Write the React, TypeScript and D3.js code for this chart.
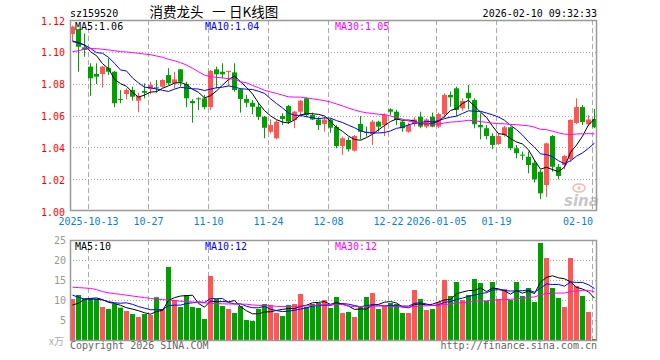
import React from "react";
import * as d3 from "d3";

const symbol = "sz159520";
const titleParts = ["消费龙头", "一", "日K线图"];
const timestamp = "2026-02-10 09:32:33";

const openP = [1.1112,1.1142,1.1028,1.0907,1.0861,1.0861,1.0900,1.0875,1.0704,1.0735,
1.0760,1.0693,1.0754,1.0766,1.0777,1.0781,1.0854,1.0802,1.0890,1.0798,
1.0691,1.0708,1.0708,1.0652,1.0890,1.0875,1.0875,1.0871,1.0765,1.0704,
1.0680,1.0655,1.0592,1.0498,1.0457,1.0597,1.0660,1.0572,1.0624,1.0708,
1.0603,1.0575,1.0547,1.0575,1.0528,1.0408,1.0446,1.0379,1.0547,1.0498,
1.0484,1.0561,1.0540,1.0639,1.0624,1.0561,1.0498,1.0547,1.0592,1.0530,
1.0592,1.0530,1.0609,1.0729,1.0771,1.0645,1.0743,1.0697,1.0540,1.0520,
1.0471,1.0421,1.0477,1.0526,1.0394,1.0354,1.0341,1.0303,1.0247,1.0163,
1.0471,1.0278,1.0289,1.0325,1.0553,1.0653,1.0545,1.0578];

const highP = [1.1165,1.1142,1.1116,1.0928,1.0928,1.0911,1.0959,1.0880,1.0760,1.0771,
1.0781,1.0743,1.0802,1.0812,1.0823,1.0827,1.0897,1.0875,1.0890,1.0812,
1.0702,1.0714,1.0729,1.0886,1.0907,1.0928,1.0880,1.0928,1.0771,1.0729,
1.0697,1.0677,1.0597,1.0576,1.0572,1.0614,1.0666,1.0630,1.0697,1.0714,
1.0618,1.0592,1.0592,1.0582,1.0540,1.0467,1.0463,1.0477,1.0597,1.0530,
1.0572,1.0567,1.0614,1.0645,1.0635,1.0567,1.0555,1.0589,1.0624,1.0582,
1.0618,1.0618,1.0739,1.0750,1.0781,1.0708,1.0792,1.0708,1.0614,1.0540,
1.0488,1.0488,1.0534,1.0530,1.0415,1.0373,1.0373,1.0320,1.0258,1.0429,
1.0477,1.0295,1.0352,1.0576,1.0708,1.0666,1.0603,1.0641];

const lowP = [1.1070,1.0875,1.0969,1.0723,1.0798,1.0775,1.0854,1.0652,1.0677,1.0702,
1.0693,1.0620,1.0708,1.0735,1.0743,1.0775,1.0792,1.0771,1.0781,1.0652,
1.0555,1.0635,1.0639,1.0635,1.0771,1.0834,1.0785,1.0750,1.0618,1.0652,
1.0608,1.0572,1.0457,1.0488,1.0450,1.0540,1.0547,1.0520,1.0592,1.0589,
1.0572,1.0509,1.0498,1.0492,1.0394,1.0352,1.0373,1.0373,1.0450,1.0467,
1.0415,1.0498,1.0471,1.0603,1.0540,1.0498,1.0492,1.0530,1.0520,1.0520,
1.0526,1.0520,1.0582,1.0655,1.0597,1.0630,1.0639,1.0520,1.0450,1.0450,
1.0388,1.0415,1.0467,1.0383,1.0331,1.0320,1.0237,1.0178,1.0074,1.0088,
1.0247,1.0199,1.0262,1.0310,1.0547,1.0540,1.0534,1.0520];

const closeP = [1.1158,1.1032,1.1012,1.0834,1.0844,1.0907,1.0875,1.0677,1.0699,1.0760,
1.0718,1.0723,1.0743,1.0792,1.0773,1.0823,1.0802,1.0827,1.0812,1.0708,
1.0677,1.0704,1.0652,1.0880,1.0859,1.0859,1.0880,1.0760,1.0704,1.0680,
1.0655,1.0592,1.0523,1.0540,1.0561,1.0578,1.0561,1.0624,1.0693,1.0603,
1.0575,1.0540,1.0575,1.0523,1.0408,1.0457,1.0388,1.0471,1.0498,1.0492,
1.0561,1.0530,1.0603,1.0624,1.0572,1.0520,1.0540,1.0575,1.0530,1.0575,
1.0530,1.0609,1.0729,1.0714,1.0635,1.0691,1.0708,1.0545,1.0526,1.0471,
1.0415,1.0471,1.0526,1.0394,1.0363,1.0351,1.0289,1.0199,1.0111,1.0425,
1.0278,1.0220,1.0346,1.0572,1.0653,1.0559,1.0575,1.0526];

// volume, in 万
const volume = [10.25,11.25,10.4,10.4,10.25,8.25,7.75,9.0,8.1,7.25,
6.5,5.75,6.5,6.25,10.7,7.75,18.25,10.0,8.25,11.25,
8.25,8.0,5.25,16.0,10.25,8.5,7.75,6.75,8.5,5.0,
4.75,7.75,9.0,8.75,6.75,6.0,8.75,9.0,11.5,8.25,
9.0,9.25,10.0,8.0,10.75,6.75,7.0,5.75,8.5,10.75,
11.75,7.75,8.5,9.25,9.0,6.75,6.75,12.5,10.25,7.5,
7.75,9.5,15.0,11.0,14.5,10.0,11.25,15.25,14.25,9.75,
14.5,10.25,12.75,10.0,14.5,11.0,13.0,9.5,24.25,20.5,
13.0,10.5,8.25,20.5,13.5,11.0,7.0,0.25];

// moving-average values before a full window exists
const ma5Head = [1.1064, 1.1058, 1.1043, 1.1001];
const ma10Head = [1.1070, 1.1054, 1.1043, 1.1022, 1.0995, 1.0991, 1.0966, 1.0928, 1.0886];
const ma30Head = [1.1001,1.1007,1.1016,1.1020,1.1020,1.1016,1.1012,1.1007,1.1001,1.0999,
1.0995,1.0991,1.0986,1.0982,1.0974,1.0966,1.0953,1.0944,1.0932,1.0917,
1.0897,1.0875,1.0854,1.0844,1.0840,1.0836,1.0831,1.0827,1.0812];
const volMa5Head = [8.75, 9.2, 10.2, 10.4];
const volMa10Head = [11.2, 10.7, 10.2, 10.2, 10.2, 10.0, 9.6, 9.3, 9.2];
const volMa30Head = [13.2,13.1,13.0,12.9,12.6,12.1,11.8,11.6,11.4,11.2,
11.0,10.8,10.6,10.4,10.2,10.1,10.0,9.9,9.7,9.6,
9.5,9.4,9.3,9.2,9.1,9.05,9.0,9.0,8.95];

const tickIndex = [3, 13, 23, 33, 43, 53, 61, 71, 87];
const tickLabels = ["2025-10-13", "10-27", "11-10", "11-24", "12-08", "12-22", "2026-01-05", "01-19", "02-10"];
const priceTicks = [1.0, 1.02, 1.04, 1.06, 1.08, 1.1, 1.12];
const volTicks = [5, 10, 15, 20, 25];
const priceLegend = ["MA5:1.06", "MA10:1.04", "MA30:1.05"];
const volLegend = ["MA5:10", "MA10:12", "MA30:12"];

const RED = "#ff5555";
const GREEN = "#00a000";
const MA_COLORS = ["#000000", "#0000ff", "#ff00ff"];
const MONO = "'DejaVu Sans Mono', 'Liberation Mono', monospace";

function movingAvg(vals: number[], n: number, head: number[]) {
  return vals.map((_, i) => (i < n - 1 ? head[i] : d3.mean(vals.slice(i - n + 1, i + 1)) as number));
}

export default function App() {
  const W = 660, H = 360;
  const left = 70, right = 597;
  const pTop = 20, pBot = 211, vTop = 240, vBot = 340;
  const idx = d3.range(closeP.length);
  const x = d3.scaleBand<number>().domain(idx).range([69, 597]).paddingInner(0).paddingOuter(0);
  const cx = (i: number) => (x(i) as number) + 3.5;
  const y = d3.scaleLinear().domain([1.0, 1.12]).range([pBot, pTop]);
  const yv = d3.scaleLinear().domain([0, 25]).range([vBot, vTop]);

  const pMA = [movingAvg(closeP, 5, ma5Head), movingAvg(closeP, 10, ma10Head), movingAvg(closeP, 30, ma30Head)];
  const vMA = [movingAvg(volume, 5, volMa5Head), movingAvg(volume, 10, volMa10Head), movingAvg(volume, 30, volMa30Head)];
  const pLine = d3.line<number>().x((_, i) => cx(i)).y((d) => y(d));
  const vLine = d3.line<number>().x((_, i) => cx(i)).y((d) => yv(d));

  const legendX = [75, 205, 335];

  return (
    <svg width={W} height={H} style={{ position: "absolute", left: 0, top: 0, background: "#fff" }}>
      <rect x={0} y={0} width={W} height={H} fill="#fff" />
      {/* header */}
      <text x={70} y={16.5} fontFamily={MONO} fontSize={10} fill="#000">{symbol}</text>
      <g fontFamily="'Noto Sans CJK SC', sans-serif" fontSize={13.5} fill="#000">
        <text x={149.5} y={17}>{titleParts[0]}</text>
        <text x={212} y={17}>{titleParts[1]}</text>
        <text x={229} y={17}>{titleParts[2]}</text>
      </g>
      <text x={597} y={16.5} fontFamily={MONO} fontSize={10} fill="#000" textAnchor="end">{timestamp}</text>

      {/* watermark */}
      <g opacity={0.55}>
        <ellipse cx={579} cy={188} rx={6} ry={4} fill="none" stroke="#f08080" strokeWidth={1.6} />
        <circle cx={579} cy={188} r={1.6} fill="#f08080" />
        <text x={564} y={206} fontFamily="'DejaVu Sans', sans-serif" fontStyle="italic" fontWeight="bold" fontSize={15} fill="#9a9a9a">sina</text>
      </g>

      {/* grids */}
      <g stroke="#aaa" strokeWidth={1} strokeDasharray="1,2">
        {priceTicks.filter((t) => t > 1.0 && t < 1.12).map((t) => (
          <line key={"pg" + t} x1={left} x2={right} y1={Math.round(y(t)) + 0.5} y2={Math.round(y(t)) + 0.5} />
        ))}
        {volTicks.filter((t) => t < 25).map((t) => (
          <line key={"vg" + t} x1={left} x2={right} y1={Math.round(yv(t)) + 0.5} y2={Math.round(yv(t)) + 0.5} />
        ))}
      </g>
      <g stroke="#aaa" strokeWidth={1} strokeDasharray="5,3">
        {tickIndex.map((ti) => {
          const gx = (x(ti) as number) + 1.5;
          return (
            <g key={"vt" + ti}>
              <line x1={gx} x2={gx} y1={pTop} y2={pBot} />
              <line x1={gx} x2={gx} y1={vTop} y2={vBot} />
            </g>
          );
        })}
      </g>

      {/* candles */}
      {idx.map((i) => {
        const up = closeP[i] >= openP[i];
        const c = up ? RED : GREEN;
        const top = y(Math.max(openP[i], closeP[i]));
        const bot = y(Math.min(openP[i], closeP[i]));
        const bx = x(i) as number;
        return (
          <g key={"c" + i}>
            <line x1={bx + 3.5} x2={bx + 3.5} y1={y(highP[i])} y2={y(lowP[i])} stroke={c} strokeWidth={1} />
            <rect x={bx + 1} y={top} width={5} height={Math.max(1, bot - top)} fill={c} />
          </g>
        );
      })}
      {pMA.map((m, k) => (
        <path key={"pm" + k} d={pLine(m) as string} fill="none" stroke={MA_COLORS[k]} strokeWidth={1} />
      ))}

      {/* volume bars */}
      {idx.map((i) => {
        const up = closeP[i] >= openP[i];
        return (
          <rect key={"v" + i} x={(x(i) as number) + 1} y={yv(volume[i])} width={5}
            height={vBot - yv(volume[i])} fill={up ? RED : GREEN} />
        );
      })}
      {vMA.map((m, k) => (
        <path key={"vm" + k} d={vLine(m) as string} fill="none" stroke={MA_COLORS[k]} strokeWidth={1} />
      ))}

      {/* frames */}
      <rect x={70.5} y={20.5} width={526} height={190} fill="none" stroke="#999" strokeWidth={1.5} />
      <rect x={70.5} y={240.5} width={526} height={100} fill="none" stroke="#999" strokeWidth={1.5} />

      {/* legends */}
      {priceLegend.map((t, k) => (
        <text key={"pl" + k} x={legendX[k]} y={30} fontFamily={MONO} fontSize={10} fill={MA_COLORS[k]}>{t}</text>
      ))}
      {volLegend.map((t, k) => (
        <text key={"vl" + k} x={legendX[k]} y={250} fontFamily={MONO} fontSize={10} fill={MA_COLORS[k]}>{t}</text>
      ))}

      {/* axes labels */}
      {priceTicks.map((t) => (
        <text key={"pt" + t} x={65} y={y(t) + 4.5} fontFamily={MONO} fontSize={10} fill="#ff0000" textAnchor="end">{t.toFixed(2)}</text>
      ))}
      {volTicks.map((t) => (
        <text key={"vt" + t} x={66} y={yv(t) + 4} fontFamily={MONO} fontSize={10} fill="#999" textAnchor="end">{t}</text>
      ))}
      <text x={49} y={345} fontFamily="'Noto Sans CJK SC', sans-serif" fontSize={10} fill="#aaa">x万</text>
      {tickIndex.map((ti, k) => {
        const gx = (x(ti) as number) + 1.5;
        const w = tickLabels[k].length * 6.02;
        const clamp = gx + w / 2 > right;
        return (
          <text key={"tl" + k} x={clamp ? gx + 0.5 : gx} y={225} fontFamily={MONO} fontSize={10} fill="#0a7fd0"
            textAnchor={clamp ? "end" : "middle"}>{tickLabels[k]}</text>
        );
      })}

      {/* footer */}
      <text x={70} y={349} fontFamily={MONO} fontSize={10} fill="#666">Copyright 2026 SINA.COM</text>
      <text x={597} y={349} fontFamily={MONO} fontSize={10} fill="#666" textAnchor="end">http://finance.sina.com.cn</text>
    </svg>
  );
}
